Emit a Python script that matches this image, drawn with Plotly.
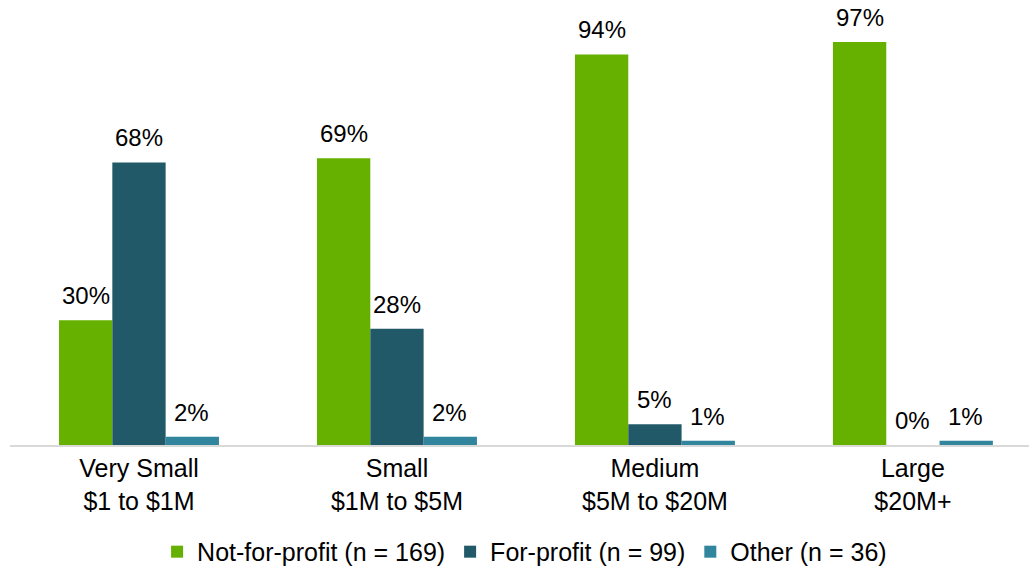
import plotly.graph_objects as go

# Organisation size bands (two-line tick labels)
categories = [
    "Very Small<br>$1 to $1M",
    "Small<br>$1M to $5M",
    "Medium<br>$5M to $20M",
    "Large<br>$20M+",
]

# Share of organisations by ownership type within each size band (%)
not_for_profit = [30, 69, 94, 97]
for_profit = [68, 28, 5, 0]
other = [2, 2, 1, 1]

series = [
    ("Not-for-profit (n = 169)", not_for_profit, "#66B100"),
    ("For-profit (n = 99)", for_profit, "#215968"),
    ("Other (n = 36)", other, "#31859C"),
]

font_family = "Liberation Sans, Arial, sans-serif"
bar_px = 53  # on-screen width of one bar within a group, used to centre value labels

fig = go.Figure()
for i, (name, values, color) in enumerate(series):
    fig.add_trace(
        go.Bar(
            name=name,
            x=categories,
            y=values,
            marker=dict(color=color, line=dict(width=0)),
        )
    )
    # value labels sitting above each bar
    for cat, v in zip(categories, values):
        fig.add_annotation(
            x=cat,
            y=v,
            xref="x",
            yref="y",
            text=f"{v}%",
            showarrow=False,
            xanchor="center",
            yanchor="bottom",
            xshift=(i - 1) * bar_px,
            yshift=9,
            font=dict(size=24, color="#000000", family=font_family),
        )

fig.update_layout(
    width=1029,
    height=569,
    barmode="group",
    bargap=0.38,
    bargroupgap=0,
    plot_bgcolor="white",
    paper_bgcolor="white",
    margin=dict(l=10, r=0, t=15, b=124, autoexpand=False),
    font=dict(family=font_family, size=25, color="#000000"),
    showlegend=True,
    legend=dict(
        orientation="h",
        x=0.505,
        xanchor="center",
        yref="container",
        y=0.03,
        yanchor="middle",
        font=dict(size=25, color="#000000"),
        itemclick=False,
        traceorder="normal",
    ),
)

fig.update_xaxes(
    range=[-0.5, 3.45],
    showline=True,
    linecolor="#D9D9D9",
    linewidth=2,
    ticks="",
    showgrid=False,
    automargin=False,
    tickfont=dict(size=25, color="#000000"),
)
fig.update_yaxes(
    range=[0, 103.5],
    visible=False,
    showgrid=False,
    zeroline=False,
    automargin=False,
)

fig.write_html("out.html")
